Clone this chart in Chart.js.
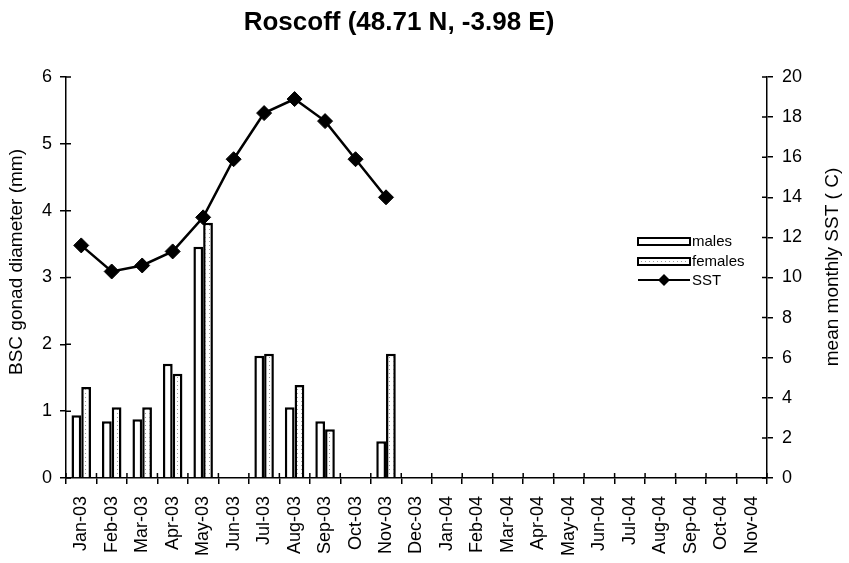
<!DOCTYPE html>
<html>
<head>
<meta charset="utf-8">
<script src="https://cdn.jsdelivr.net/npm/chart.js@4.4.1/dist/chart.umd.min.js"></script>
<style>
  html, body { margin: 0; padding: 0; background: #fff; }
  #wrap { width: 849px; height: 563px; }
</style>
</head>
<body>
<div id="wrap"><canvas id="gonadChart" width="849" height="563"></canvas></div>
<script>
// Data
const months = ['Jan-03', 'Feb-03', 'Mar-03', 'Apr-03', 'May-03', 'Jun-03', 'Jul-03', 'Aug-03',
  'Sep-03', 'Oct-03', 'Nov-03', 'Dec-03', 'Jan-04', 'Feb-04', 'Mar-04', 'Apr-04', 'May-04',
  'Jun-04', 'Jul-04', 'Aug-04', 'Sep-04', 'Oct-04', 'Nov-04'];
const males = [0.94, 0.85, 0.88, 1.71, 3.46, null, 1.83, 1.06, 0.85, null, 0.55,
  null, null, null, null, null, null, null, null, null, null, null, null];
const females = [1.36, 1.06, 1.06, 1.56, 3.82, null, 1.86, 1.39, 0.73, null, 1.86,
  null, null, null, null, null, null, null, null, null, null, null, null];
const sst = [11.6, 10.3, 10.6, 11.3, 13.0, 15.9, 18.2, 18.9, 17.8, 15.9, 14.0,
  null, null, null, null, null, null, null, null, null, null, null, null];
const leftTicks = [0, 1, 2, 3, 4, 5, 6];
const rightTicks = [0, 2, 4, 6, 8, 10, 12, 14, 16, 18, 20];

const chartTitle = 'Roscoff (48.71 N, -3.98 E)';
const leftTitle = 'BSC gonad diameter (mm)';
const rightTitle = 'mean monthly SST ( C)';

const FONT = "'Liberation Sans', Arial, sans-serif";

// dotted fill for the females bars
function dotPattern() {
  const c = document.createElement('canvas');
  c.width = 4; c.height = 4;
  const g = c.getContext('2d');
  g.fillStyle = '#fff';
  g.fillRect(0, 0, 4, 4);
  g.fillStyle = '#9a9a9a';
  g.fillRect(1, 1, 1, 1);
  return g.createPattern(c, 'repeat');
}
const femaleFill = dotPattern();

// ticks that cross the axis lines (inner half)
const innerTicks = {
  id: 'innerTicks',
  afterDraw(chart) {
    const ctx = chart.ctx;
    const x = chart.scales.x, y = chart.scales.y, y2 = chart.scales.y2;
    ctx.save();
    ctx.strokeStyle = '#000';
    ctx.lineWidth = 1.5;
    ctx.beginPath();
    y.ticks.forEach((t, i) => {
      const p = y.getPixelForTick(i);
      ctx.moveTo(y.right, p); ctx.lineTo(y.right + 5, p);
    });
    y2.ticks.forEach((t, i) => {
      const p = y2.getPixelForTick(i);
      ctx.moveTo(y2.left, p); ctx.lineTo(y2.left - 5, p);
    });
    const n = months.length;
    const w = (x.right - x.left) / n;
    for (let i = 0; i <= n; i++) {
      const p = x.left + i * w;
      ctx.moveTo(p, x.top); ctx.lineTo(p, x.top - 5);
    }
    ctx.stroke();
    ctx.restore();
  }
};

// title and axis titles, placed where the original has them
const titles = {
  id: 'titles',
  afterDraw(chart) {
    const ctx = chart.ctx;
    ctx.save();
    ctx.fillStyle = '#000';
    ctx.textAlign = 'center';
    ctx.textBaseline = 'middle';
    ctx.font = 'bold 26px ' + FONT;
    ctx.fillText(chartTitle, 399, 23);
    ctx.font = '19px ' + FONT;
    ctx.translate(17, 262);
    ctx.rotate(-Math.PI / 2);
    ctx.fillText(leftTitle, 0, 0);
    ctx.restore();
    ctx.save();
    ctx.fillStyle = '#000';
    ctx.textAlign = 'center';
    ctx.textBaseline = 'middle';
    ctx.font = '19px ' + FONT;
    ctx.translate(833, 267);
    ctx.rotate(-Math.PI / 2);
    ctx.fillText(rightTitle, 0, 0);
    ctx.restore();
  }
};

// legend box placed inside the plot, like the original
const sideLegend = {
  id: 'sideLegend',
  afterDraw(chart) {
    const ctx = chart.ctx;
    const ds = chart.data.datasets;
    ctx.save();
    ctx.font = '15px ' + FONT;
    ctx.fillStyle = '#000';
    ctx.textBaseline = 'middle';
    ctx.textAlign = 'left';
    const bx = 638, bw = 52, tx = 692;
    // males
    ctx.fillStyle = '#fff';
    ctx.fillRect(bx, 238, bw, 7);
    ctx.strokeStyle = '#000';
    ctx.lineWidth = 2;
    ctx.strokeRect(bx, 238, bw, 7);
    ctx.fillStyle = '#000';
    ctx.fillText(ds[1].label, tx, 242);
    // females
    ctx.fillStyle = femaleFill;
    ctx.fillRect(bx, 258, bw, 7);
    ctx.strokeRect(bx, 258, bw, 7);
    ctx.fillStyle = '#000';
    ctx.fillText(ds[2].label, tx, 262);
    // SST
    ctx.beginPath();
    ctx.moveTo(bx, 280); ctx.lineTo(bx + bw, 280);
    ctx.stroke();
    ctx.beginPath();
    ctx.moveTo(bx + 26, 274); ctx.lineTo(bx + 32, 280);
    ctx.lineTo(bx + 26, 286); ctx.lineTo(bx + 20, 280);
    ctx.closePath();
    ctx.fill();
    ctx.fillText(ds[0].label, tx, 281);
    ctx.restore();
  }
};

new Chart(document.getElementById('gonadChart').getContext('2d'), {
  type: 'bar',
  data: {
    labels: months,
    datasets: [
      {
        type: 'line', label: 'SST', data: sst, yAxisID: 'y2', order: 0,
        borderColor: '#000', borderWidth: 2.5, backgroundColor: '#000',
        pointStyle: 'rectRot', pointRadius: 7.5, pointBorderWidth: 1, tension: 0
      },
      {
        label: 'males', data: males, yAxisID: 'y', order: 1,
        backgroundColor: '#fff', borderColor: '#000', borderWidth: 2.5,
        categoryPercentage: 0.64, barPercentage: 1.0
      },
      {
        label: 'females', data: females, yAxisID: 'y', order: 1,
        backgroundColor: femaleFill, borderColor: '#000', borderWidth: 2.5,
        categoryPercentage: 0.64, barPercentage: 1.0
      }
    ]
  },
  options: {
    responsive: false,
    animation: false,
    layout: { padding: { top: 77 } },
    plugins: {
      legend: { display: false },
      tooltip: { enabled: false },
      title: { display: false }
    },
    scales: {
      x: {
        offset: true,
        grid: { drawOnChartArea: false, offset: true, color: '#000', lineWidth: 1.5, tickLength: 6 },
        border: { color: '#000', width: 1.5 },
        ticks: {
          color: '#000', font: { family: FONT, size: 18 },
          minRotation: 90, maxRotation: 90, autoSkip: false, padding: 12
        },
        afterFit(scale) { scale.height = 85; }
      },
      y: {
        position: 'left', min: 0, max: 6,
        grid: { drawOnChartArea: false, color: '#000', lineWidth: 1.5, tickLength: 6 },
        border: { color: '#000', width: 1.5 },
        afterBuildTicks(scale) { scale.ticks = leftTicks.map(v => ({ value: v })); },
        ticks: { color: '#000', font: { family: FONT, size: 18 }, padding: 8 },
        afterFit(scale) { scale.width = 66; }
      },
      y2: {
        position: 'right', min: 0, max: 20,
        grid: { drawOnChartArea: false, color: '#000', lineWidth: 1.5, tickLength: 6 },
        border: { color: '#000', width: 1.5 },
        afterBuildTicks(scale) { scale.ticks = rightTicks.map(v => ({ value: v })); },
        ticks: { color: '#000', font: { family: FONT, size: 18 }, padding: 9 },
        afterFit(scale) { scale.width = 82; }
      }
    }
  },
  plugins: [innerTicks, titles, sideLegend]
});
</script>
</body>
</html>
